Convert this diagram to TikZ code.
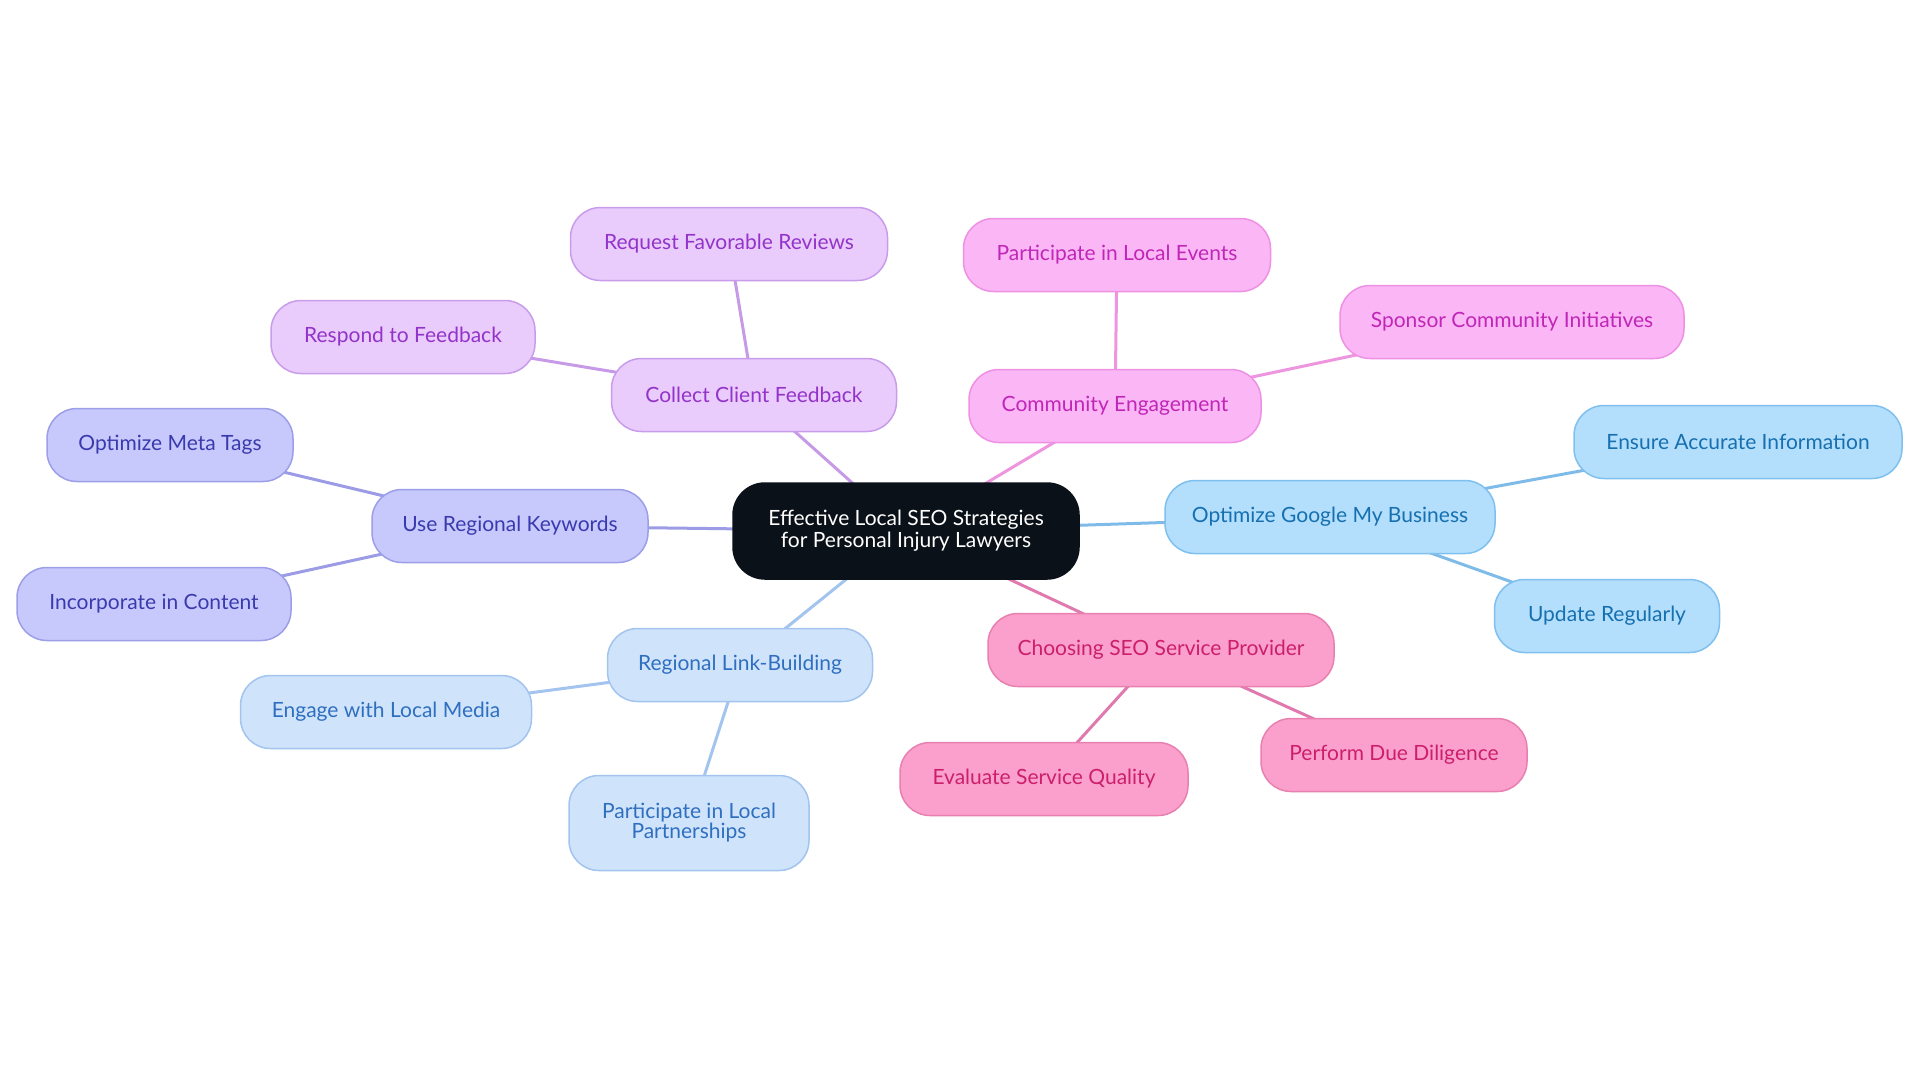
\documentclass[tikz,border=0pt]{standalone}
\usepackage{fontspec}
\setmainfont{Lato}
\usetikzlibrary{backgrounds}
\definecolor{purF}{HTML}{E9CBFC}\definecolor{purD}{HTML}{C99CEA}\definecolor{purT}{HTML}{9333C9}\definecolor{purL}{HTML}{C79AE8}
\definecolor{indF}{HTML}{C7C9FC}\definecolor{indD}{HTML}{9C9EE8}\definecolor{indT}{HTML}{3A3AAE}\definecolor{indL}{HTML}{9B9BE6}
\definecolor{lbF}{HTML}{CFE3FB}\definecolor{lbD}{HTML}{A2C4EE}\definecolor{lbT}{HTML}{2F6FC0}\definecolor{lbL}{HTML}{A2C4EE}
\definecolor{magF}{HTML}{FBB6F5}\definecolor{magD}{HTML}{EE90E4}\definecolor{magT}{HTML}{C026B8}\definecolor{magL}{HTML}{ED95DE}
\definecolor{skyF}{HTML}{B3DEFC}\definecolor{skyD}{HTML}{7FC0EE}\definecolor{skyT}{HTML}{1670B0}\definecolor{skyL}{HTML}{7FBBE8}
\definecolor{pnkF}{HTML}{FBA0CC}\definecolor{pnkD}{HTML}{E880B0}\definecolor{pnkT}{HTML}{CC1F6A}\definecolor{pnkL}{HTML}{E07AAE}
\definecolor{ctrF}{HTML}{0B1118}
\tikzset{
 base/.style={rounded corners=15pt, minimum height=36.5pt, inner xsep=0pt, line width=0.75pt,
   font=\fontsize{10.5}{10}\selectfont, align=center},
 pur/.style={base, fill=purF, draw=purD, text=purT},
 ind/.style={base, fill=indF, draw=indD, text=indT},
 lb/.style={base, fill=lbF, draw=lbD, text=lbT},
 mag/.style={base, fill=magF, draw=magD, text=magT},
 sky/.style={base, fill=skyF, draw=skyD, text=skyT},
 pnk/.style={base, fill=pnkF, draw=pnkD, text=pnkT},
 ctr/.style={base, fill=ctrF, draw=ctrF, text=white, rounded corners=16pt, minimum height=48pt,
   font=\fontsize{10.5}{11}\selectfont},
 link/.style={line width=1.5pt}
}
\begin{document}
\begin{tikzpicture}[x=0.5pt,y=-0.5pt]
\useasboundingbox (0,0) rectangle (1920,1083);
% center
\node[ctr, minimum width=173pt] (c) at (906,531) {Effective Local SEO Strategies\\for Personal Injury Lawyers};
% purple branch
\node[pur, minimum width=142.5pt] (ccf) at (754,395) {Collect Client Feedback};
\node[pur, minimum width=158.5pt] (rfr) at (729,244) {Request Favorable Reviews};
\node[pur, minimum width=132pt] (rtf) at (403,337) {Respond to Feedback};
% indigo branch
\node[ind, minimum width=138pt] (urk) at (510,526) {Use Regional Keywords};
\node[ind, minimum width=123pt] (omt) at (170,445) {Optimize Meta Tags};
\node[ind, minimum width=137pt] (iic) at (154,604) {Incorporate in Content};
% light blue branch
\node[lb, minimum width=132.5pt] (rlb) at (740,665) {Regional Link-Building};
\node[lb, minimum width=145.5pt] (elm) at (386,712) {Engage with Local Media};
\node[lb, minimum width=120pt, minimum height=47.5pt] (plp) at (689,823) {Participate in Local\\Partnerships};
% magenta branch
\node[mag, minimum width=146pt] (ce) at (1115,406) {Community Engagement};
\node[mag, minimum width=153.5pt] (ple) at (1117,255) {Participate in Local Events};
\node[mag, minimum width=172pt] (sci) at (1512,322) {Sponsor Community Initiatives};
% sky branch
\node[sky, minimum width=165pt] (gmb) at (1330,517) {Optimize Google My Business};
\node[sky, minimum width=164pt] (eai) at (1738,442) {Ensure Accurate Information};
\node[sky, minimum width=112.5pt] (ur) at (1607,616) {Update Regularly};
% pink branch
\node[pnk, minimum width=173pt] (csp) at (1161,650) {Choosing SEO Service Provider};
\node[pnk, minimum width=144pt] (esq) at (1044,779) {Evaluate Service Quality};
\node[pnk, minimum width=133pt] (pdd) at (1394,755) {Perform Due Diligence};
% connectors (behind the nodes)
\begin{pgfonlayer}{background}
\draw[link, purL] (c.center) -- (ccf.center);
\draw[link, purL] (ccf.center) -- (rfr.center);
\draw[link, purL] (ccf.center) -- (rtf.center);
\draw[link, indL] (c.center) -- (urk.center);
\draw[link, indL] (urk.center) -- (omt.center);
\draw[link, indL] (urk.center) -- (iic.center);
\draw[link, lbL] (c.center) -- (rlb.center);
\draw[link, lbL] (rlb.center) -- (elm.center);
\draw[link, lbL] (rlb.center) -- (plp.center);
\draw[link, magL] (c.center) -- (ce.center);
\draw[link, magL] (ce.center) -- (ple.center);
\draw[link, magL] (ce.center) -- (sci.center);
\draw[link, skyL] (c.center) -- (gmb.center);
\draw[link, skyL] (gmb.center) -- (eai.center);
\draw[link, skyL] (gmb.center) -- (ur.center);
\draw[link, pnkL] (c.center) -- (csp.center);
\draw[link, pnkL] (csp.center) -- (esq.center);
\draw[link, pnkL] (csp.center) -- (pdd.center);
\end{pgfonlayer}
\end{tikzpicture}
\end{document}
